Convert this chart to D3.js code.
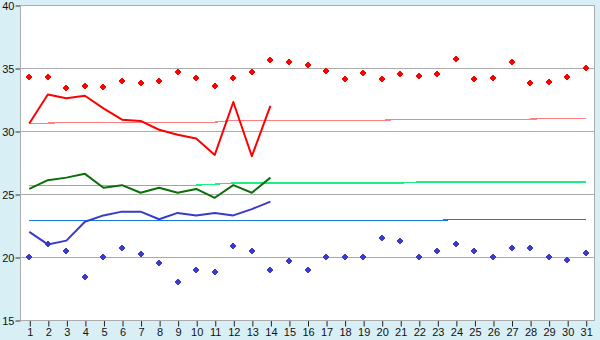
<!DOCTYPE html>
<html>
<head>
<meta charset="utf-8">
<script src="https://cdn.jsdelivr.net/npm/d3@7"></script>
<style>
  html, body { margin: 0; padding: 0; background: #d9eff6; }
  svg { display: block; font-family: "DejaVu Sans", Verdana, sans-serif; }
</style>
</head>
<body>
<div id="container"></div>
<script>
const days = [1, 2, 3, 4, 5, 6, 7, 8, 9, 10, 11, 12, 13, 14, 15, 16, 17, 18, 19, 20,
  21, 22, 23, 24, 25, 26, 27, 28, 29, 30, 31];
const yTicks = [15, 20, 25, 30, 35, 40];

// daily max / min (diamonds)
const maxPoints = [34.3, 34.3, 33.4, 33.6, 33.5, 34.0, 33.8, 34.0, 34.7, 34.2, 33.6, 34.2, 34.7, 35.6, 35.5,
  35.2, 34.8, 34.1, 34.6, 34.1, 34.5, 34.4, 34.5, 35.7, 34.1, 34.2, 35.5, 33.8, 33.9, 34.3, 35.0];
const minPoints = [20.0, 21.0, 20.5, 18.4, 20.0, 20.7, 20.2, 19.5, 18.0, 19.0, 18.8, 20.9, 20.5, 19.0, 19.7,
  19.0, 20.0, 20.0, 20.0, 21.5, 21.3, 20.0, 20.5, 21.0, 20.5, 20.0, 20.7, 20.7, 20.0, 19.8, 20.3];

// measured lines (first 14 days)
const maxLine = [30.6, 32.9, 32.6, 32.8, 31.8, 30.9, 30.8, 30.1, 29.7, 29.4, 28.1, 32.3, 28.0, 32.0];
const meanLine = [25.4, 26.1, 26.3, 26.6, 25.5, 25.7, 25.1, 25.5, 25.1, 25.4, 24.7, 25.7, 25.1, 26.3];
const minLine = [22.0, 21.0, 21.3, 22.8, 23.3, 23.6, 23.6, 23.0, 23.5, 23.3, 23.5, 23.3, 23.8, 24.4];

// normals (thin lines)
const maxNormal = [30.61, 30.62, 30.69, 30.69, 30.69, 30.69, 30.69, 30.69, 30.69, 30.69, 30.70, 30.85, 30.85,
  30.85, 30.85, 30.85, 30.85, 30.85, 30.85, 30.85, 30.92, 30.93, 30.93, 30.93, 30.93, 30.93, 30.93, 30.94,
  31.0, 31.0, 31.0];
const meanNormal = [25.70, 25.70, 25.70, 25.70, 25.70, 25.70, 25.70, 25.70, 25.70, 25.70, 25.78, 25.87, 25.87,
  25.87, 25.87, 25.87, 25.87, 25.87, 25.87, 25.87, 25.87, 25.95, 25.95, 25.95, 25.95, 25.95, 25.95, 25.95,
  25.95, 25.95, 25.95];
const minNormal = [22.9, 22.9, 22.9, 22.9, 22.9, 22.9, 22.9, 22.9, 22.9, 22.9, 22.9, 22.9, 22.9, 22.9, 22.9,
  22.9, 22.9, 22.9, 22.9, 22.9, 22.9, 22.9, 22.9, 22.98, 22.98, 22.98, 22.98, 22.98, 22.98, 22.98, 22.98];

const w = 600;
const h = 340;
const margin = { top: 5, right: 5, bottom: 20, left: 20 };

const xScale = d3
  .scalePoint()
  .domain(days)
  .range([margin.left, w - margin.right])
  .padding(0.5);

const yScale = d3
  .scaleLinear()
  .domain([15, 40])
  .range([h - margin.bottom, margin.top]);

const svg = d3
  .select("#container")
  .append("svg")
  .attr("width", w)
  .attr("height", h)
  .attr("viewBox", `0 0 ${w} ${h}`);

// plot background
svg
  .append("rect")
  .attr("x", margin.left)
  .attr("y", margin.top)
  .attr("width", w - margin.left - margin.right)
  .attr("height", h - margin.top - margin.bottom)
  .attr("fill", "#fff");

// gridlines
svg
  .append("g")
  .selectAll("line")
  .data(yTicks.slice(1, -1))
  .enter()
  .append("line")
  .attr("x1", margin.left)
  .attr("x2", w - margin.right)
  .attr("y1", (d) => Math.round(yScale(d)) + 0.5)
  .attr("y2", (d) => Math.round(yScale(d)) + 0.5)
  .attr("stroke", "#ababab");

// y axis
const yAxis = svg
  .append("g")
  .attr("transform", `translate(${margin.left + 0.5}, 0.5)`)
  .call(d3.axisLeft(yScale).tickValues(yTicks).tickSize(5).tickSizeOuter(0));
yAxis.select(".domain").remove();
yAxis.selectAll(".tick line").attr("stroke", "#333");
yAxis
  .selectAll(".tick text")
  .attr("x", -6)
  .attr("fill", "#111")
  .style("font-size", "11px");

// x axis
const xAxis = svg
  .append("g")
  .attr("transform", `translate(0.5, ${h - margin.bottom + 0.5})`)
  .call(d3.axisBottom(xScale).tickSize(6).tickSizeOuter(0));
xAxis.select(".domain").remove();
xAxis.selectAll(".tick line").attr("stroke", "#222");
xAxis
  .selectAll(".tick text")
  .attr("y", 8)
  .attr("fill", "#111")
  .style("font-size", "11px");

// frame
svg
  .append("rect")
  .attr("x", margin.left + 0.5)
  .attr("y", margin.top + 0.5)
  .attr("width", w - margin.left - margin.right - 1)
  .attr("height", h - margin.top - margin.bottom)
  .attr("fill", "none")
  .attr("stroke", "#ababab");

const line = d3
  .line()
  .x((d, i) => xScale(days[i]))
  .y((d) => yScale(d));

// normals
const normals = [
  [maxNormal, "#ff8080"],
  [meanNormal, "#19f07f"],
  [minNormal, "#1a78e4"],
];
normals.forEach(([data, color]) => {
  svg
    .append("path")
    .datum(data)
    .attr("d", line)
    .attr("fill", "none")
    .attr("stroke", color)
    .attr("stroke-width", 1.3)
    .attr("shape-rendering", "crispEdges");
});

// measured lines
const series = [
  [maxLine, "#ff0000"],
  [meanLine, "#0a6e0a"],
  [minLine, "#3a3acc"],
];
series.forEach(([data, color]) => {
  svg
    .append("path")
    .datum(data)
    .attr("d", line)
    .attr("fill", "none")
    .attr("stroke", color)
    .attr("stroke-width", 2)
    .attr("stroke-linejoin", "round");
});

// diamond markers
const marker = "M-1,-3h2v1h1v1h1v2h-1v1h-1v1h-2v-1h-1v-1h-1v-2h1v-1h1z";
const points = [
  [maxPoints, "#ff0000"],
  [minPoints, "#3a3acc"],
];
points.forEach(([data, color]) => {
  svg
    .append("g")
    .selectAll("path")
    .data(data)
    .enter()
    .append("path")
    .attr("d", marker)
    .attr("transform", (d, i) => `translate(${Math.round(xScale(days[i]))}, ${Math.round(yScale(d))})`)
    .attr("fill", color)
    .attr("shape-rendering", "crispEdges");
});
</script>
</body>
</html>
